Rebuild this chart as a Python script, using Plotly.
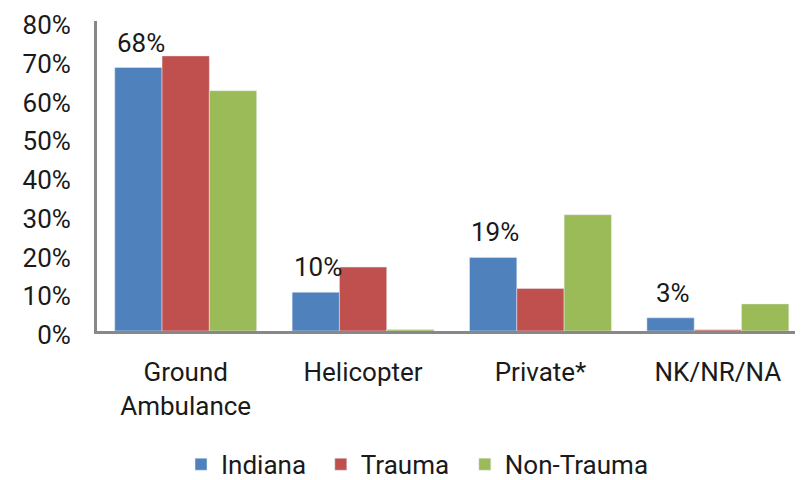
import plotly.graph_objects as go

categories = ["Ground<br>Ambulance", "Helicopter", "Private*", "NK/NR/NA"]
indiana = [68, 10, 19, 3.4]
trauma = [71, 16.5, 11, 0.3]
non_trauma = [62, 0.4, 30, 7]
y_ticks = [0, 10, 20, 30, 40, 50, 60, 70, 80]
y_tick_labels = [f"{v}%" for v in y_ticks]

FONT = "Roboto, Open Sans, sans-serif"
TXT = "#1a1a1a"

fig = go.Figure()
fig.add_trace(go.Bar(name="Indiana", x=categories, y=indiana, marker_color="#4F81BD",
                     legend="legend"))
fig.add_trace(go.Bar(name="Trauma", x=categories, y=trauma, marker_color="#C0504D",
                     legend="legend2"))
fig.add_trace(go.Bar(name="Non-Trauma", x=categories, y=non_trauma, marker_color="#9BBB59",
                     legend="legend3"))

for c, v in zip(categories, indiana):
    fig.add_annotation(x=c, y=v, text=f"{round(v)}%", showarrow=False,
                       xshift=-45, yshift=25, yanchor="middle",
                       font=dict(family=FONT, size=26, color=TXT))

leg_common = dict(orientation="h", xanchor="left", y=-0.43, yanchor="middle",
                  font=dict(size=26, family=FONT, color=TXT), bgcolor="rgba(0,0,0,0)")

# page body has an 8px default margin, so the figure is sized 8px smaller
fig.update_layout(
    width=795, height=472,
    margin=dict(l=89, r=0, t=13, b=149, autoexpand=False),
    paper_bgcolor="white", plot_bgcolor="white",
    barmode="group", bargap=0.2, bargroupgap=0,
    font=dict(family=FONT, size=26, color=TXT),
    showlegend=True,
    legend=dict(x=0.119, **leg_common),
    legend2=dict(x=0.317, **leg_common),
    legend3=dict(x=0.521, **leg_common),
)
fig.update_xaxes(range=[-0.5, 3.48], showline=True, linecolor="#888888", linewidth=3,
                 showgrid=False, ticks="", ticklabelstandoff=16, zeroline=False,
                 tickangle=0, automargin=False)
fig.update_yaxes(range=[0, 80], tickvals=y_ticks, ticktext=y_tick_labels,
                 showline=True, linecolor="#888888", linewidth=3, showgrid=False,
                 zeroline=False, ticks="", ticklabelstandoff=18, ticklabelshift=4,
                 ticklabeloverflow="allow", automargin=False)

fig.write_html("out.html")
